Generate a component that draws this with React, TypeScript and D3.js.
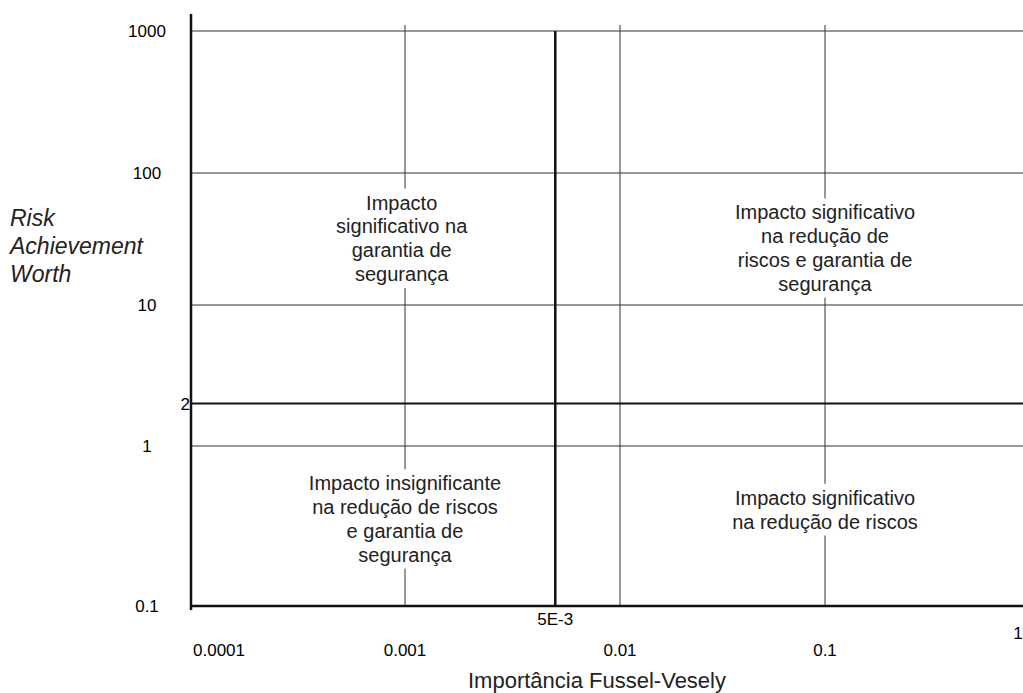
import React, { useEffect, useRef } from "react";
import * as d3 from "d3";

// x: Importância Fussel-Vesely (log), y: Risk Achievement Worth (log)
const xTicks = [0.0001, 0.001, 0.01, 0.1, 1];
const xTickLabels = ["0.0001", "0.001", "0.01", "0.1", "1"];
const xGrid = [0.001, 0.01, 0.1];
const yTicks = [0.1, 1, 10, 100, 1000];
const yTickLabels = ["0.1", "1", "10", "100", "1000"];
const yGrid = [1, 10, 100, 1000];
const fvLimit = 5e-3;
const fvLimitLabel = "5E-3";
const rawLimit = 2;
const rawLimitLabel = "2";

const quadrants = [
  { fv: 0.00096, raw: 32, lines: ["Impacto", "significativo na", "garantia de", "segurança"] },
  { fv: 0.1, raw: 27, lines: ["Impacto significativo", "na redução de", "riscos e garantia de", "segurança"] },
  { fv: 0.001, raw: 0.35, lines: ["Impacto insignificante", "na redução de riscos", "e garantia de", "segurança"] },
  { fv: 0.1, raw: 0.4, lines: ["Impacto significativo", "na redução de riscos"] },
];

export default function App() {
  const ref = useRef<SVGSVGElement>(null);

  useEffect(() => {
    const svg = d3.select(ref.current);
    svg.selectAll("*").remove();

    const left = 191, right = 1023, top = 14, bottom = 606;
    const font = "Liberation Sans, Arial, sans-serif";

    const x = d3.scaleLog().domain(xTicks).range([219, 405, 620, 825, 1018]);
    const y = d3.scaleLog().domain(yTicks).range([606, 446, 305, 173, 31]);

    // grid
    svg.append("g").selectAll("line").data(yGrid).enter().append("line")
      .attr("x1", left).attr("x2", right)
      .attr("y1", d => y(d)).attr("y2", d => y(d))
      .attr("stroke", "#333").attr("stroke-width", 1);
    svg.append("g").selectAll("line").data(xGrid).enter().append("line")
      .attr("x1", d => x(d)).attr("x2", d => x(d))
      .attr("y1", 25).attr("y2", bottom)
      .attr("stroke", "#333").attr("stroke-width", 1);

    // quadrant texts with white backing
    const q = svg.append("g").selectAll("g").data(quadrants).enter().append("g");
    q.each(function (d) {
      const g = d3.select(this);
      const lh = 23.8;
      const cy = y(d.raw);
      const y0 = cy - ((d.lines.length - 1) * lh) / 2;
      const t = g.append("text")
        .attr("text-anchor", "middle")
        .style("font-family", font).style("font-size", "20px").attr("fill", "#222");
      d.lines.forEach((l, i) => {
        t.append("tspan").attr("x", x(d.fv)).attr("y", y0 + i * lh).attr("dy", "0.35em").text(l);
      });
      const bb = (t.node() as SVGTextElement).getBBox();
      g.insert("rect", "text")
        .attr("x", bb.x - 3).attr("y", bb.y - 3)
        .attr("width", bb.width + 6).attr("height", bb.height + 6)
        .attr("fill", "white");
    });

    // threshold lines
    svg.append("line")
      .attr("x1", left).attr("x2", right)
      .attr("y1", y(rawLimit)).attr("y2", y(rawLimit))
      .attr("stroke", "#111").attr("stroke-width", 2);
    svg.append("line")
      .attr("x1", x(fvLimit)).attr("x2", x(fvLimit))
      .attr("y1", y(1000)).attr("y2", bottom)
      .attr("stroke", "#111").attr("stroke-width", 2.5);

    // axes
    svg.append("line").attr("x1", left).attr("x2", left).attr("y1", top).attr("y2", bottom + 4)
      .attr("stroke", "#111").attr("stroke-width", 2.5);
    svg.append("line").attr("x1", left).attr("x2", right).attr("y1", bottom).attr("y2", bottom)
      .attr("stroke", "#111").attr("stroke-width", 2.5);

    // tick labels
    svg.append("g").selectAll("text").data(xTicks).enter().append("text")
      .attr("x", d => x(d))
      .attr("y", (d, i) => (i === xTicks.length - 1 ? 633 : 650))
      .attr("dy", "0.35em")
      .attr("text-anchor", "middle")
      .style("font-family", font).style("font-size", "17px").attr("fill", "#000")
      .text((d, i) => xTickLabels[i]);
    svg.append("g").selectAll("text").data(yTicks).enter().append("text")
      .attr("x", 147).attr("y", d => y(d)).attr("dy", "0.35em")
      .attr("text-anchor", "middle")
      .style("font-family", font).style("font-size", "17px").attr("fill", "#000")
      .text((d, i) => yTickLabels[i]);
    svg.append("text")
      .attr("x", left - 1).attr("y", y(rawLimit)).attr("dy", "0.35em")
      .attr("text-anchor", "end")
      .style("font-family", font).style("font-size", "17px").attr("fill", "#000")
      .text(rawLimitLabel);
    svg.append("text")
      .attr("x", x(fvLimit)).attr("y", 619).attr("dy", "0.35em")
      .attr("text-anchor", "middle")
      .style("font-family", font).style("font-size", "17px").attr("fill", "#000")
      .text(fvLimitLabel);

    // axis titles
    svg.append("text")
      .attr("x", 597).attr("y", 680).attr("dy", "0.35em")
      .attr("text-anchor", "middle")
      .style("font-family", font).style("font-size", "22px").attr("fill", "#222")
      .text("Importância Fussel-Vesely");
    const yt = svg.append("text")
      .style("font-family", font).style("font-size", "23px").style("font-style", "italic")
      .attr("fill", "#222");
    ["Risk", "Achievement", "Worth"].forEach((l, i) => {
      yt.append("tspan").attr("x", 10).attr("y", 226 + i * 28).text(l);
    });
  }, []);

  return (
    <svg ref={ref} width={1023} height={693}
      style={{ position: "absolute", left: 0, top: 0, background: "white" }} />
  );
}
